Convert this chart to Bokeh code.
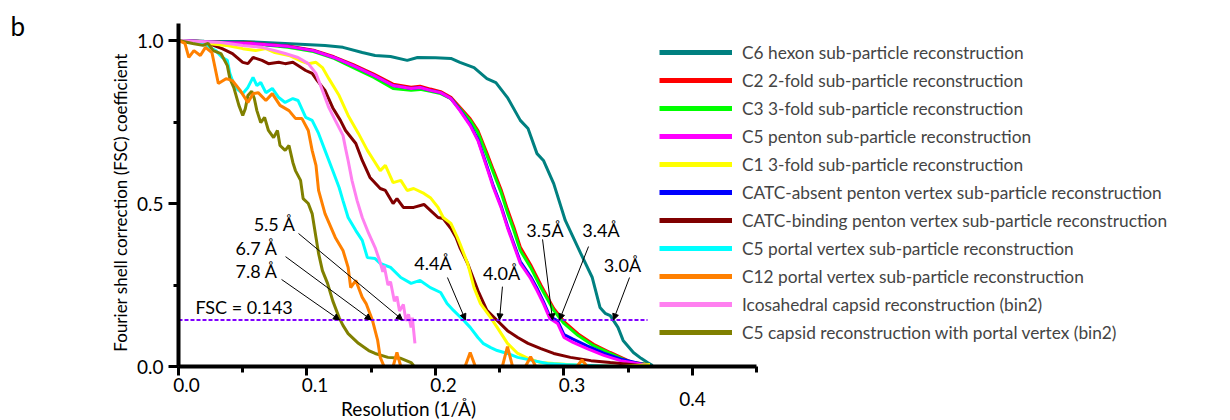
import math
from bokeh.plotting import figure
from bokeh.models import (Legend, LegendItem, Label, Arrow, NormalHead, FixedTicker,
                          NumeralTickFormatter, LinearAxis, Grid)
from bokeh.embed import file_html
from bokeh.resources import INLINE

FONT = "Lato"

# ---------------- data ----------------
series_names = [
    "C6 hexon sub-particle reconstruction",
    "C2 2-fold sub-particle reconstruction",
    "C3 3-fold sub-particle reconstruction",
    "C5 penton sub-particle reconstruction",
    "C1 3-fold sub-particle reconstruction",
    "CATC-absent penton vertex sub-particle reconstruction",
    "CATC-binding penton vertex sub-particle reconstruction",
    "C5 portal vertex sub-particle reconstruction",
    "C12 portal vertex sub-particle reconstruction",
    "Icosahedral capsid reconstruction (bin2)",
    "C5 capsid reconstruction with portal vertex (bin2)",
]
series_colors = ["#008080", "#ff0000", "#00ff00", "#ff00ff", "#ffff00", "#0000ff",
                 "#800000", "#00ffff", "#ff8000", "#ff80f0", "#808000"]

c6_x = [0, 0.020, 0.050, 0.083, 0.114, 0.128, 0.143, 0.153, 0.165, 0.178, 0.186, 0.200, 0.212, 0.219, 0.230,
        0.240, 0.247, 0.256, 0.266, 0.272, 0.279, 0.284, 0.292, 0.301, 0.313, 0.322, 0.328, 0.332, 0.336, 0.342,
        0.346, 0.354, 0.360, 0.365, 0.369]
c6_y = [1.000, 0.998, 0.997, 0.991, 0.985, 0.979, 0.963, 0.954, 0.951, 0.939, 0.948, 0.947, 0.945, 0.933, 0.917,
        0.883, 0.871, 0.825, 0.755, 0.730, 0.653, 0.632, 0.561, 0.448, 0.347, 0.273, 0.181, 0.163, 0.156, 0.120,
        0.080, 0.043, 0.025, 0.012, 0.003]

c3_x = [0, 0.033, 0.056, 0.085, 0.105, 0.121, 0.136, 0.152, 0.167, 0.181, 0.188, 0.196, 0.204, 0.212, 0.219,
        0.227, 0.233, 0.240, 0.245, 0.251, 0.256, 0.261, 0.266, 0.274, 0.282, 0.292, 0.300, 0.311, 0.323, 0.336,
        0.352, 0.365]
c3_y = [1.0, 0.994, 0.991, 0.979, 0.966, 0.945, 0.917, 0.887, 0.853, 0.847, 0.850, 0.844, 0.837, 0.822, 0.791,
        0.755, 0.718, 0.647, 0.595, 0.534, 0.472, 0.417, 0.356, 0.304, 0.242, 0.172, 0.132, 0.095, 0.064, 0.040,
        0.012, 0.006]
c2_x = c3_x
c2_y = [1.0, 0.995, 0.992, 0.983, 0.970, 0.950, 0.926, 0.897, 0.866, 0.857, 0.860, 0.851, 0.843, 0.826, 0.795,
        0.760, 0.724, 0.655, 0.603, 0.543, 0.482, 0.427, 0.366, 0.312, 0.250, 0.178, 0.138, 0.100, 0.068, 0.043,
        0.014, 0.006]

c5p_x = [0, 0.033, 0.056, 0.085, 0.105, 0.121, 0.136, 0.152, 0.167, 0.181, 0.188, 0.196, 0.204, 0.212, 0.219,
         0.227, 0.233, 0.240, 0.245, 0.251, 0.256, 0.266, 0.274, 0.279, 0.284, 0.289, 0.295, 0.300, 0.307, 0.318,
         0.331, 0.344, 0.357, 0.365]
c5p_y = [1.000, 0.994, 0.991, 0.982, 0.969, 0.948, 0.923, 0.893, 0.862, 0.853, 0.856, 0.847, 0.840, 0.822, 0.785,
         0.739, 0.693, 0.610, 0.549, 0.488, 0.426, 0.316, 0.270, 0.233, 0.193, 0.147, 0.132, 0.089, 0.074, 0.055,
         0.034, 0.018, 0.009, 0.003]
absent_x = c5p_x
absent_y = [1.000, 0.994, 0.991, 0.982, 0.969, 0.948, 0.923, 0.893, 0.862, 0.853, 0.856, 0.847, 0.840, 0.822, 0.787,
            0.742, 0.697, 0.615, 0.554, 0.493, 0.431, 0.322, 0.276, 0.240, 0.199, 0.153, 0.140, 0.098, 0.084, 0.063,
            0.041, 0.023, 0.011, 0.004]

c1_x = [0, 0.023, 0.037, 0.050, 0.060, 0.068, 0.075, 0.086, 0.096, 0.101, 0.107, 0.112, 0.117, 0.125, 0.132,
        0.140, 0.147, 0.152, 0.157, 0.161, 0.167, 0.173, 0.178, 0.183, 0.191, 0.196, 0.202, 0.206, 0.212, 0.217,
        0.219, 0.225, 0.230, 0.235, 0.243, 0.248, 0.256, 0.264, 0.272, 0.282, 0.292, 0.313, 0.344, 0.367]
c1_y = [1.0, 0.991, 0.985, 0.975, 0.969, 0.975, 0.963, 0.954, 0.936, 0.929, 0.933, 0.917, 0.883, 0.831, 0.770,
        0.715, 0.663, 0.632, 0.601, 0.617, 0.564, 0.571, 0.540, 0.546, 0.531, 0.518, 0.488, 0.457, 0.439, 0.396,
        0.377, 0.316, 0.242, 0.193, 0.150, 0.120, 0.071, 0.040, 0.025, 0.012, 0.009, 0.003, 0.0, 0.006]

binding_x = [0, 0.023, 0.034, 0.042, 0.050, 0.054, 0.058, 0.065, 0.070, 0.078, 0.083, 0.089, 0.093, 0.099, 0.104,
             0.108, 0.114, 0.120, 0.126, 0.130, 0.138, 0.143, 0.149, 0.157, 0.161, 0.167, 0.170, 0.175, 0.183, 0.191,
             0.196, 0.202, 0.206, 0.212, 0.216, 0.219, 0.225, 0.233, 0.240, 0.248, 0.256, 0.264, 0.272, 0.282, 0.292,
             0.305, 0.321, 0.336, 0.352, 0.366]
binding_y = [1.0, 0.991, 0.975, 0.960, 0.933, 0.929, 0.948, 0.939, 0.929, 0.933, 0.929, 0.933, 0.923, 0.908, 0.899,
             0.877, 0.847, 0.794, 0.755, 0.724, 0.684, 0.632, 0.580, 0.546, 0.540, 0.500, 0.515, 0.488, 0.488, 0.497,
             0.479, 0.457, 0.454, 0.423, 0.396, 0.365, 0.316, 0.233, 0.172, 0.141, 0.110, 0.089, 0.071, 0.055, 0.040,
             0.028, 0.018, 0.012, 0.006, 0.0]

portal_x = [0, 0.017, 0.029, 0.034, 0.038, 0.040, 0.044, 0.050, 0.054, 0.058, 0.061, 0.064, 0.068, 0.073, 0.078,
            0.083, 0.089, 0.093, 0.099, 0.104, 0.109, 0.114, 0.120, 0.125, 0.128, 0.132, 0.138, 0.143, 0.147, 0.153,
            0.157, 0.165, 0.173, 0.181, 0.188, 0.196, 0.204, 0.209, 0.214, 0.222, 0.227, 0.233, 0.237, 0.243, 0.248,
            0.256, 0.264, 0.276, 0.287, 0.301, 0.321, 0.340]
portal_y = [1.0, 0.994, 0.969, 0.948, 0.939, 0.899, 0.856, 0.837, 0.856, 0.887, 0.862, 0.871, 0.840, 0.853, 0.825,
            0.810, 0.822, 0.816, 0.764, 0.755, 0.715, 0.663, 0.601, 0.549, 0.509, 0.457, 0.417, 0.387, 0.334, 0.331,
            0.316, 0.304, 0.273, 0.255, 0.264, 0.242, 0.227, 0.193, 0.172, 0.141, 0.120, 0.089, 0.071, 0.058, 0.049,
            0.040, 0.028, 0.018, 0.009, 0.006, 0.003, 0.0]

c12_x = [0, 0.005, 0.008, 0.012, 0.017, 0.021, 0.026, 0.031, 0.037, 0.042, 0.048, 0.054, 0.058, 0.062, 0.068,
         0.073, 0.079, 0.086, 0.091, 0.096, 0.101, 0.104, 0.107, 0.109, 0.114, 0.122, 0.128, 0.132, 0.134, 0.138,
         0.143, 0.146, 0.151, 0.155, 0.157, 0.160, 0.167, 0.170, 0.173, 0.223, 0.227, 0.231, 0.252, 0.256, 0.260,
         0.270, 0.274, 0.278, 0.310, 0.314, 0.318, 0.360]
c12_y = [1.0, 0.991, 0.948, 0.969, 0.954, 0.979, 0.963, 0.868, 0.883, 0.877, 0.847, 0.810, 0.837, 0.840, 0.816,
         0.837, 0.801, 0.785, 0.761, 0.761, 0.724, 0.663, 0.617, 0.540, 0.469, 0.396, 0.356, 0.304, 0.242, 0.264,
         0.212, 0.193, 0.141, 0.080, 0.028, 0.0, 0.0, 0.043, 0.0, 0.0, 0.043, 0.0, 0.0, 0.061, 0.0,
         0.0, 0.030, 0.0, 0.0, 0.020, 0.0, 0.0]

ico_x = [0, 0.033, 0.050, 0.065, 0.075, 0.083, 0.093, 0.101, 0.107, 0.112, 0.117, 0.122, 0.128, 0.130, 0.132,
         0.135, 0.139, 0.143, 0.148, 0.153, 0.157, 0.159, 0.160, 0.163, 0.165, 0.168, 0.170, 0.172, 0.175, 0.177,
         0.179, 0.181, 0.182, 0.184]
ico_y = [1.0, 0.994, 0.985, 0.979, 0.969, 0.960, 0.948, 0.929, 0.899, 0.847, 0.794, 0.755, 0.709, 0.669, 0.632,
         0.571, 0.509, 0.457, 0.408, 0.365, 0.319, 0.290, 0.310, 0.250, 0.260, 0.200, 0.215, 0.170, 0.190, 0.140,
         0.160, 0.120, 0.150, 0.071]

capsid_x = [0, 0.011, 0.019, 0.023, 0.027, 0.033, 0.038, 0.040, 0.043, 0.047, 0.050, 0.052, 0.054, 0.057, 0.059,
            0.061, 0.064, 0.067, 0.070, 0.074, 0.077, 0.079, 0.083, 0.086, 0.089, 0.091, 0.095, 0.097, 0.101, 0.104,
            0.107, 0.109, 0.112, 0.116, 0.120, 0.125, 0.128, 0.132, 0.140, 0.148, 0.153, 0.163, 0.173, 0.181, 0.183]
capsid_y = [1.0, 0.991, 0.985, 0.991, 0.969, 0.960, 0.923, 0.883, 0.856, 0.801, 0.770, 0.791, 0.831, 0.844, 0.822,
            0.785, 0.748, 0.764, 0.724, 0.702, 0.724, 0.678, 0.663, 0.678, 0.626, 0.601, 0.571, 0.515, 0.500, 0.469,
            0.396, 0.347, 0.294, 0.255, 0.202, 0.150, 0.126, 0.101, 0.071, 0.049, 0.040, 0.028, 0.025, 0.012, 0.003]

series_x = [c6_x, c2_x, c3_x, c5p_x, c1_x, absent_x, binding_x, portal_x, c12_x, ico_x, capsid_x]
series_y = [c6_y, c2_y, c3_y, c5p_y, c1_y, absent_y, binding_y, portal_y, c12_y, ico_y, capsid_y]
draw_order = [0, 1, 2, 5, 3, 6, 4, 7, 9, 10, 8]

fsc_threshold = 0.143
fsc_line_x = [0, 0.365]

res_labels = ["7.8 Å", "6.7 Å", "5.5 Å", "4.4Å", "4.0Å", "3.5Å", "3.4Å", "3.0Å"]
res_crossing_x = [0.1253, 0.150, 0.1743, 0.2233, 0.2498, 0.2911, 0.2965, 0.3385]

x_tick_values = [0.0, 0.1, 0.2, 0.3, 0.4]
x_tick_labels = ["0.0", "0.1", "0.2", "0.3", "0.4"]

# ---------------- figure ----------------
# the frame covers the whole canvas; axes are pinned at x=0 / y=0 with fixed_location
p = figure(width=1230, height=420, x_range=(-0.13852, 0.81868), y_range=(-0.16564, 1.12270),
           output_backend="svg", toolbar_location=None,
           x_axis_location=None, y_axis_location=None, min_border=0)
p.outline_line_color = None
p.center = [r for r in p.center if not isinstance(r, Grid)]

xa = LinearAxis(fixed_location=0, bounds=(0, 0.45))
xa.ticker = FixedTicker(ticks=x_tick_values, minor_ticks=[0.05, 0.15, 0.25, 0.35, 0.45])
xa.major_tick_out = 9
xa.minor_tick_out = 6
xa.major_label_text_color = None
xa.major_label_text_font_size = "1px"

ya = LinearAxis(fixed_location=0, bounds=(0, 1.052))
ya.ticker = FixedTicker(ticks=[0.0, 0.5, 1.0], minor_ticks=[0.25, 0.75])
ya.formatter = NumeralTickFormatter(format="0.0")
ya.major_tick_out = 10
ya.minor_tick_out = 5
ya.major_label_standoff = 5
ya.major_label_text_font = FONT
ya.major_label_text_font_size = "19px"
ya.major_label_text_color = "black"

for ax in (xa, ya):
    ax.axis_line_width = 4
    ax.axis_line_color = "black"
    ax.major_tick_line_width = 3
    ax.minor_tick_line_width = 3
    ax.major_tick_in = 0
    ax.minor_tick_in = 0
p.add_layout(xa, "below")
p.add_layout(ya, "left")

# curves
for i in draw_order:
    p.line(series_x[i], series_y[i], line_color=series_colors[i], line_width=3)

# FSC = 0.143 threshold
p.line(fsc_line_x, [fsc_threshold] * len(fsc_line_x), line_color="#8000ff", line_width=2, line_dash="4 2")

# legend with dummy renderers (thicker legend lines)
items = []
for name, col in zip(series_names, series_colors):
    r = p.line([math.nan], [math.nan], line_color=col, line_width=5)
    items.append(LegendItem(label=name, renderers=[r]))
legend = Legend(items=items, location=(659, 77), glyph_width=73, glyph_height=22, label_height=22,
                label_standoff=10, spacing=6, padding=0, margin=0, border_line_color=None,
                background_fill_alpha=0, label_text_font=FONT, label_text_font_size="17.3px")
p.add_layout(legend)

# annotation texts and arrows
text_pos = {
    "5.5 Å": (0.0911, 0.436, "right"),
    "6.7 Å": (0.0770, 0.362, "right"),
    "7.8 Å": (0.0770, 0.294, "right"),
    "4.4Å": (0.198, 0.316, "center"),
    "4.0Å": (0.2514, 0.288, "center"),
    "3.5Å": (0.2852, 0.420, "center"),
    "3.4Å": (0.3288, 0.420, "center"),
    "3.0Å": (0.3455, 0.310, "center"),
}
arrow_start = {
    "5.5 Å": (0.0934, 0.408), "6.7 Å": (0.0833, 0.337), "7.8 Å": (0.0802, 0.267),
    "4.4Å": (0.2093, 0.273), "4.0Å": (0.2521, 0.245), "3.5Å": (0.2833, 0.390),
    "3.4Å": (0.3191, 0.368), "3.0Å": (0.3510, 0.273),
}
for lab, cx in zip(res_labels, res_crossing_x):
    tx, ty, al = text_pos[lab]
    p.add_layout(Label(x=tx, y=ty, text=lab, text_align=al, text_baseline="middle",
                       text_font=FONT, text_font_size="18px", text_color="black"))
    sx, sy = arrow_start[lab]
    p.add_layout(Arrow(x_start=sx, y_start=sy, x_end=cx, y_end=fsc_threshold, line_width=1, line_color="black",
                       end=NormalHead(size=6, fill_color="black", line_color="black", line_width=1)))

p.add_layout(Label(x=0.0132, y=0.184, text="FSC = 0.143", text_align="left", text_baseline="middle",
                   text_font=FONT, text_font_size="18px", text_color="black"))

# x tick labels (offset like the original)
for v, t in zip(x_tick_values, x_tick_labels):
    if t == "0.4":
        p.add_layout(Label(x=v, y=-0.101, text=t, text_align="center", text_baseline="middle",
                           text_font=FONT, text_font_size="19px", text_color="black"))
    else:
        p.add_layout(Label(x=v, y=-0.058, x_offset=8, text=t, text_align="center", text_baseline="middle",
                           text_font=FONT, text_font_size="19px", text_color="black"))

# axis titles and panel letter
p.add_layout(Label(x=0.179, y=-0.129, text="Resolution (1/Å)", text_align="center", text_baseline="middle",
                   text_font=FONT, text_font_size="19px", text_color="black"))
p.add_layout(Label(x=-0.0451, y=0.503, text="Fourier shell correction (FSC) coefficient", angle=math.pi / 2,
                   text_align="center", text_baseline="middle",
                   text_font=FONT, text_font_size="17px", text_color="black"))
p.add_layout(Label(x=-0.1307, y=1.046, text="b", text_align="left", text_baseline="middle",
                   text_font=FONT, text_font_size="26px", text_color="black"))

open("out.html", "w").write(file_html(p, INLINE))
